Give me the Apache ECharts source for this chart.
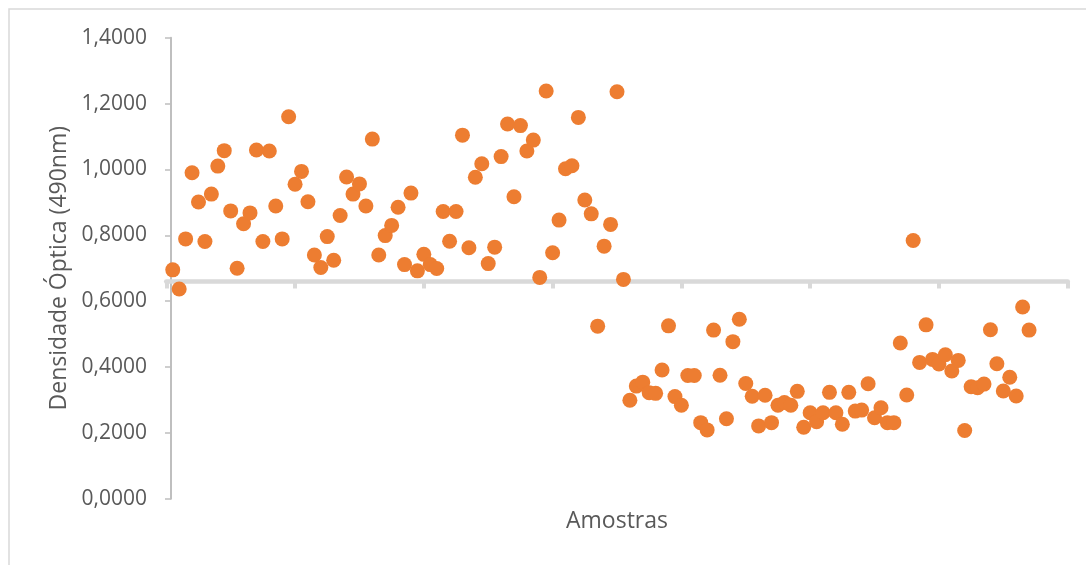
<!DOCTYPE html>
<html>
<head>
<meta charset="utf-8">
<script src="https://cdn.jsdelivr.net/npm/echarts@6/dist/echarts.min.js"></script>
<style>
  html, body { margin: 0; padding: 0; background: #ffffff; }
  #chart { width: 1086px; height: 565px; }
</style>
</head>
<body>
<div id="chart"></div>
<script>
// optical density per sample (samples 1..134)
const densidade = [
  0.695, 0.637, 0.789, 0.990, 0.901, 0.781, 0.925, 1.010, 1.057, 0.874,
  0.700, 0.835, 0.868, 1.059, 0.781, 1.056, 0.889, 0.789, 1.160, 0.955,
  0.994, 0.902, 0.740, 0.702, 0.796, 0.724, 0.860, 0.977, 0.925, 0.956,
  0.889, 1.092, 0.740, 0.799, 0.830, 0.885, 0.711, 0.928, 0.692, 0.742,
  0.711, 0.699, 0.872, 0.782, 0.872, 1.104, 0.762, 0.976, 1.017, 0.714,
  0.764, 1.039, 1.138, 0.917, 1.133, 1.056, 1.089, 0.672, 1.238, 0.747,
  0.846, 1.002, 1.011, 1.158, 0.907, 0.865, 0.524, 0.767, 0.833, 1.236,
  0.666, 0.299, 0.342, 0.354, 0.322, 0.320, 0.391, 0.525, 0.310, 0.284,
  0.374, 0.374, 0.231, 0.209, 0.512, 0.375, 0.243, 0.477, 0.545, 0.350,
  0.311, 0.221, 0.314, 0.231, 0.284, 0.292, 0.284, 0.326, 0.217, 0.261,
  0.234, 0.261, 0.323, 0.261, 0.226, 0.323, 0.266, 0.269, 0.349, 0.246,
  0.276, 0.231, 0.231, 0.473, 0.315, 0.784, 0.414, 0.528, 0.423, 0.409,
  0.437, 0.388, 0.420, 0.207, 0.340, 0.337, 0.348, 0.513, 0.410, 0.327,
  0.369, 0.312, 0.582, 0.512
]

const xTitle = 'Amostras'
const yTitle = 'Densidade Óptica (490nm)'
const xMin = 0, xMax = 140, xStep = 20
const yMin = 0, yMax = 1.4, yStep = 0.2

const font = '"Open Sans", "Noto Sans", sans-serif'
const textGrey = '#595959'

const chart = echarts.init(document.getElementById('chart'), null, { renderer: 'canvas' })

const option = {
  backgroundColor: '#ffffff',
  animation: false,
  graphic: [
    {
      type: 'rect',
      z: -1,
      shape: { x: 9, y: 9, width: 1200, height: 700 },
      style: { fill: 'none', stroke: '#d9d9d9', lineWidth: 1.5 }
    }
  ],
  grid: {
    left: 166.3,
    right: 18.3,
    top: 37.7,
    bottom: 66.3
  },
  xAxis: {
    type: 'value',
    min: xMin,
    max: xMax,
    interval: xStep,
    // horizontal axis crosses the vertical one at ~0,66
    offset: -217.7,
    name: xTitle,
    nameLocation: 'middle',
    nameGap: 229,
    nameTextStyle: { color: textGrey, fontSize: 23, fontFamily: font },
    axisLine: { lineStyle: { color: '#d9d9d9', width: 4.7 } },
    axisTick: { show: true, length: 7.5, lineStyle: { color: '#d9d9d9', width: 4 } },
    axisLabel: { show: false },
    splitLine: { show: false }
  },
  yAxis: {
    type: 'value',
    min: yMin,
    max: yMax,
    interval: yStep,
    offset: -4.7,
    name: yTitle,
    nameLocation: 'middle',
    nameRotate: 90,
    nameGap: 97,
    nameTextStyle: { color: textGrey, fontSize: 23, fontFamily: font },
    axisLine: { show: true, lineStyle: { color: '#bfbfbf', width: 2 } },
    axisTick: { show: true, length: 6, lineStyle: { color: '#bfbfbf', width: 1.5 } },
    axisLabel: {
      color: textGrey,
      fontSize: 21,
      fontFamily: font,
      margin: 24,
      formatter: (v) => v.toFixed(4).replace('.', ',')
    },
    splitLine: { show: false }
  },
  series: [
    {
      type: 'scatter',
      symbol: 'circle',
      symbolSize: 15,
      itemStyle: { color: '#ed7d31', opacity: 1 },
      data: densidade.map((v, i) => [i + 1, v])
    }
  ]
}

chart.setOption(option)
</script>
</body>
</html>
